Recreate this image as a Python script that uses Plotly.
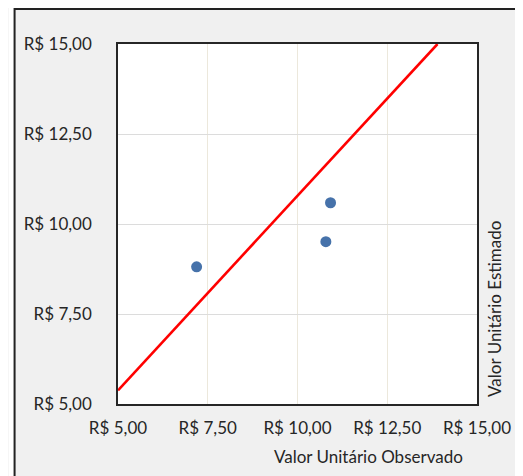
import plotly.graph_objects as go

obs_x = [7.19, 10.79, 10.92]
est_y = [8.81, 9.51, 10.59]
line_x = [5.0, 13.9]
line_y = [5.38, 15.0]
tick_vals = [5, 7.5, 10, 12.5, 15]
tick_text = ["R$ 5,00", "R$ 7,50", "R$ 10,00", "R$ 12,50", "R$ 15,00"]

FONT = "Lato"
W, H = 515, 468
L, R, T, B = 110, 44, 36, 72
PW, PH = W - L - R, H - T - B


def px(x):
    return (x - L) / PW


def py(y):
    return (T + PH - y) / PH


fig = go.Figure()
fig.add_trace(go.Scatter(x=line_x, y=line_y, mode="lines",
                         line=dict(color="#ff0000", width=2.6), showlegend=False))
fig.add_trace(go.Scatter(x=obs_x, y=est_y, mode="markers",
                         marker=dict(color="#4672AA", size=11), showlegend=False))

fig.update_layout(
    width=W, height=H,
    margin=dict(l=L, r=R, t=T, b=B),
    paper_bgcolor="#f0f0f0", plot_bgcolor="#ffffff",
    font=dict(family=FONT, size=17, color="#262626"),
    xaxis=dict(range=[5, 15], tickvals=tick_vals, ticktext=tick_text,
               showgrid=True, gridcolor="#ece8dc", gridwidth=1,
               zeroline=False, showline=True, mirror=True, linecolor="#262626",
               linewidth=1.5, ticks="", ticklabelstandoff=8),
    yaxis=dict(range=[5, 15], tickvals=tick_vals, ticktext=tick_text,
               showgrid=True, gridcolor="#dcdcdc", gridwidth=1,
               zeroline=False, showline=True, mirror=True, linecolor="#262626",
               linewidth=1.5, ticks="", ticklabelstandoff=21),
    shapes=[
        dict(type="rect", xref="paper", yref="paper",
             x0=px(0), x1=px(6), y0=py(H), y1=py(0),
             line=dict(width=0), fillcolor="#ffffff"),
        dict(type="rect", xref="paper", yref="paper",
             x0=px(6), x1=px(W + 20), y0=py(H + 20), y1=py(1),
             line=dict(color="#222222", width=2), fillcolor="rgba(0,0,0,0)"),
    ],
    annotations=[
        dict(text="Valor Unitário Observado", xref="paper", yref="paper",
             x=px(361.5), y=py(448.7), showarrow=False,
             xanchor="center", yanchor="middle", font=dict(size=17)),
        dict(text="Valor Unitário Estimado", xref="paper", yref="paper",
             x=px(488), y=py(301), showarrow=False,
             textangle=-90, xanchor="center", yanchor="middle", font=dict(size=17)),
    ],
)
fig.write_html("out.html")
